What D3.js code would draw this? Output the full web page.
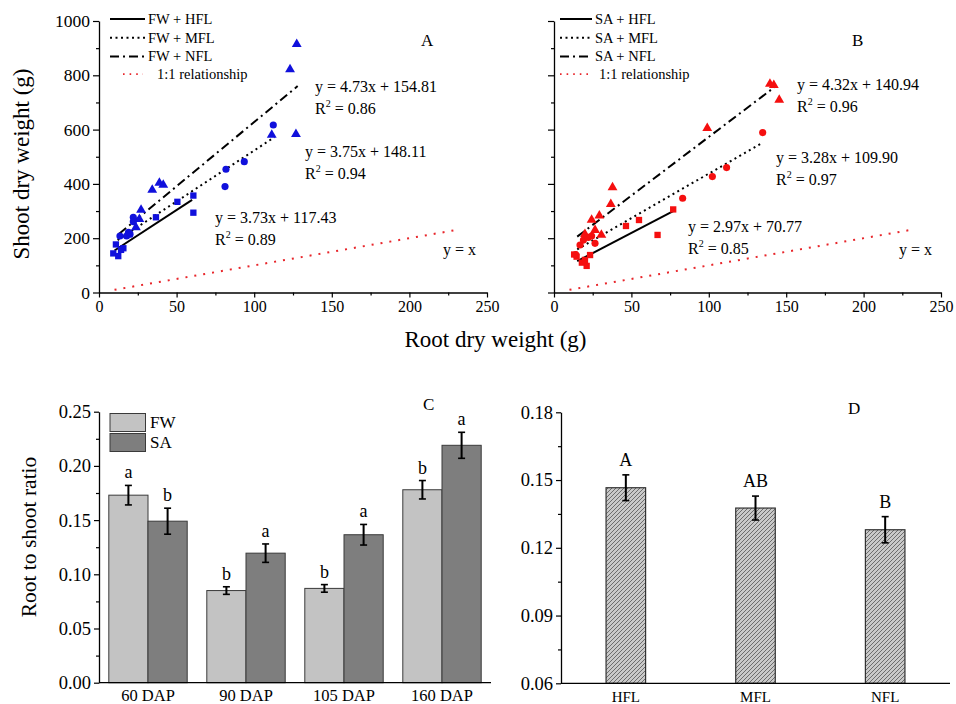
<!DOCTYPE html>
<html><head><meta charset="utf-8">
<script src="https://cdn.jsdelivr.net/npm/d3@7"></script>
<style>
body{margin:0;background:#fff}
svg{display:block}
text{font-family:"Liberation Serif","Times New Roman",serif;fill:#000}
</style>
</head><body><svg id="chart" width="956" height="704"></svg>
<script>
// ---------------- Data ----------------
// Panel A (FW) : [root dry weight, shoot dry weight]
const fwHFL = [[9.2,144],[12.4,134],[10.9,177],[15.7,163],[14.2,157],[19.5,215],[36.7,277],[50.5,334],[60.8,357],[60.8,294]];
const fwMFL = [[13.5,208],[17.8,208],[20,215],[22.1,277],[22.1,261],[19,222],[81.8,454],[93.6,482],[81.2,390],[112.3,617]];
const fwNFL = [[27.1,304],[23.8,240],[26,270],[34.3,378],[38.9,404],[41.4,396],[111.3,580],[127.4,915],[123.1,822],[126.9,583]];
// Panel B (SA)
const saHFL = [[14.6,132],[21.1,98],[20,120],[23.3,138],[13,140],[18,110],[46.5,245],[54.9,267],[66.9,212],[77,306]];
const saMFL = [[16.8,175],[19,193],[22.2,203],[24.3,208],[26.5,181],[14,140],[83.1,347],[102.3,427],[111.5,460],[134.8,589]];
const saNFL = [[37.8,387],[36.7,325],[29.3,283],[24.3,267],[26.5,230],[30.6,212],[20,215],[99,605],[139.5,768],[142,764],[145.5,709]];
// regression fits: slope, intercept, x range
const fitSlopesA = [3.73, 3.75, 4.73];
const fitInterceptsA = [117.43, 148.11, 154.81];
const fitRangesA = [[10,60],[12,113],[13,128]];
const fitR2A = ["0.89","0.94","0.86"];
const fitSlopesB = [2.97, 3.28, 4.32];
const fitInterceptsB = [70.77, 109.90, 140.94];
const fitRangesB = [[15,77],[15,134],[15,143]];
const fitR2B = ["0.85","0.97","0.96"];
const oneToOneRange = [10, 230];
const levels = ["HFL","MFL","NFL"];
const scatterXTicks = [0,50,100,150,200,250];
const scatterYTicks = [0,200,400,600,800,1000];

// Panel C
const dapCategories = ["60 DAP","90 DAP","105 DAP","160 DAP"];
const fwRatio = [0.173, 0.085, 0.087, 0.178];
const fwErr   = [0.009, 0.0035, 0.0035, 0.0085];
const saRatio = [0.149, 0.1195, 0.1365, 0.219];
const saErr   = [0.012, 0.0085, 0.0095, 0.012];
const fwLetters = ["a","b","b","b"];
const saLetters = ["b","a","a","a"];
const ratioTicksC = [0,0.05,0.10,0.15,0.20,0.25];

// Panel D
const flCategories = ["HFL","MFL","NFL"];
const flRatio = [0.1466, 0.1376, 0.128];
const flErr   = [0.0057, 0.0053, 0.0058];
const flLetters = ["A","AB","B"];
const ratioTicksD = [0.06,0.09,0.12,0.15,0.18];

// ---------------- Drawing ----------------
const svg = d3.select("#chart");
const defs = svg.append("defs");
const hatch = defs.append("pattern").attr("id","hatch").attr("patternUnits","userSpaceOnUse")
  .attr("width",4).attr("height",4);
hatch.append("rect").attr("width",4).attr("height",4).attr("fill","#c9c9c9");
hatch.append("path").attr("d","M-1,1 l2,-2 M0,4 l4,-4 M3,5 l2,-2").attr("stroke","#555").attr("stroke-width",0.8);

const lineStyles = {HFL:null, MFL:"2,3.5", NFL:"9,4,2,4"};
const redDash = "2,7";
const serif = '"Liberation Serif","Times New Roman",serif';

function styleAxis(g){
  g.attr("font-family",null);
  g.selectAll("path.domain").attr("stroke","#000").attr("stroke-width",1.3);
  g.selectAll(".tick line").attr("stroke","#000").attr("stroke-width",1.2);
  g.selectAll("text").style("font-family",serif).attr("fill","#000");
}

const yScat = d3.scaleLinear().domain([0,1000]).range([292.5,21]);

function scatterPanel(x, series, color, slopes, intercepts, ranges, r2, prefix, opts){
  // axes
  const gx = svg.append("g").attr("transform","translate(0,292.5)")
    .call(d3.axisBottom(x).tickValues(scatterXTicks).tickSize(5).tickSizeOuter(0).tickPadding(3).tickFormat(d3.format("d")));
  gx.selectAll("text").style("font-size","16px");
  styleAxis(gx);
  const gxm = svg.append("g").attr("transform","translate(0,292.5)")
    .call(d3.axisBottom(x).tickValues(d3.range(25,250,50)).tickSize(3).tickFormat(""));
  gxm.select("path.domain").remove(); styleAxis(gxm);

  const gy = svg.append("g").attr("transform",`translate(${x(0)},0)`)
    .call(d3.axisLeft(yScat).tickValues(scatterYTicks).tickSize(6).tickSizeOuter(0).tickPadding(3)
      .tickFormat(opts.yLabels ? d3.format("d") : ""));
  gy.selectAll("text").style("font-size","17.5px");
  styleAxis(gy);
  const gym = svg.append("g").attr("transform",`translate(${x(0)},0)`)
    .call(d3.axisLeft(yScat).tickValues(d3.range(100,1000,200)).tickSize(3).tickFormat(""));
  gym.select("path.domain").remove(); styleAxis(gym);

  // 1:1 line
  svg.append("line").attr("x1",x(oneToOneRange[0])).attr("y1",yScat(oneToOneRange[0]))
    .attr("x2",x(oneToOneRange[1])).attr("y2",yScat(oneToOneRange[1]))
    .attr("stroke","#e8262b").attr("stroke-width",2).attr("stroke-dasharray",redDash);

  // fit lines
  levels.forEach((lv,i)=>{
    const [a,b] = ranges[i];
    svg.append("line").attr("x1",x(a)).attr("y1",yScat(slopes[i]*a+intercepts[i]))
      .attr("x2",x(b)).attr("y2",yScat(slopes[i]*b+intercepts[i]))
      .attr("stroke","#000").attr("stroke-width",2)
      .attr("stroke-dasharray",lineStyles[lv]);
  });

  // points
  const shapes = [d3.symbolSquare, d3.symbolCircle, d3.symbolTriangle];
  const sizes = [40, 40, 42];
  series.forEach((pts,i)=>{
    svg.append("g").selectAll("path").data(pts).join("path")
      .attr("transform",d=>`translate(${x(d[0])},${yScat(d[1])})`)
      .attr("d",d3.symbol().type(shapes[i]).size(sizes[i]))
      .attr("fill",color);
  });

  // legend
  const lg = opts.legend;
  levels.forEach((lv,i)=>{
    const yy = lg.y + i*18.7;
    svg.append("line").attr("x1",lg.x0).attr("x2",lg.x1).attr("y1",yy).attr("y2",yy)
      .attr("stroke","#000").attr("stroke-width",2).attr("stroke-dasharray",lineStyles[lv]);
    svg.append("text").attr("x",lg.x1+3).attr("y",yy+5).style("font-size","14.5px").text(`${prefix} + ${lv}`);
  });
  const yr = lg.y + 3*18.7 - 1;
  svg.append("line").attr("x1",lg.x0+lg.redOff).attr("x2",lg.x1-2).attr("y1",yr).attr("y2",yr)
    .attr("stroke","#e8262b").attr("stroke-width",1.8).attr("stroke-dasharray","1.6,5");
  svg.append("text").attr("x",lg.x1+lg.textOff).attr("y",yr+5).style("font-size","14.5px").text("1:1 relationship");

  // equations
  opts.eq.forEach((p,i)=>{
    const s = slopes[i].toFixed(2), c = intercepts[i].toFixed(2);
    svg.append("text").attr("x",p[0]).attr("y",p[1]).style("font-size","16px").text(`y = ${s}x + ${c}`);
    const t = svg.append("text").attr("x",p[0]).attr("y",p[1]+22).style("font-size","16px");
    t.append("tspan").text("R");
    t.append("tspan").attr("dy",-7).style("font-size","10px").text("2");
    t.append("tspan").attr("dy",7).text(` = ${r2[i]}`);
  });
  svg.append("text").attr("x",opts.yx[0]).attr("y",opts.yx[1]).style("font-size","16px").text("y = x");
  svg.append("text").attr("x",opts.label[0]).attr("y",opts.label[1]).style("font-size","17px").text(opts.label[2]);
}

const xA = d3.scaleLinear().domain([0,250]).range([99,487]);
const xB = d3.scaleLinear().domain([0,250]).range([554,941]);

scatterPanel(xA,[fwHFL,fwMFL,fwNFL],"#1010dc",fitSlopesA,fitInterceptsA,fitRangesA,fitR2A,"FW",{
  yLabels:true,
  legend:{x0:110,x1:145,y:19,redOff:13,textOff:12},
  eq:[[215,223],[305,157],[315,92]],
  yx:[443,255],
  label:[421,46,"A"]
});
scatterPanel(xB,[saHFL,saMFL,saNFL],"#f50f0f",fitSlopesB,fitInterceptsB,fitRangesB,fitR2B,"SA",{
  yLabels:false,
  legend:{x0:560,x1:592,y:19,redOff:0,textOff:7},
  eq:[[688,232],[776,163],[797,90]],
  yx:[899,255],
  label:[852,46,"B"]
});

// axis titles for top
svg.append("text").attr("transform","translate(29,164) rotate(-90)").attr("text-anchor","middle")
  .style("font-size","23px").text("Shoot dry weight (g)");
svg.append("text").attr("x",495.5).attr("y",347).attr("text-anchor","middle")
  .style("font-size","23px").text("Root dry weight (g)");

// ---------- Panel C ----------
const xC = d3.scaleBand().domain(dapCategories).range([99,491]).paddingInner(0.2).paddingOuter(0.1);
const subC = d3.scaleBand().domain(["FW","SA"]).range([0,xC.bandwidth()]);
const yC = d3.scaleLinear().domain([0,0.25]).range([682.7,411.7]);
const colorsC = {FW:"#c3c3c3", SA:"#7e7e7e"};

const gyC = svg.append("g").attr("transform","translate(99,0)")
  .call(d3.axisLeft(yC).tickValues(ratioTicksC).tickSize(5).tickSizeOuter(0).tickPadding(3).tickFormat(d3.format(".2f")));
gyC.selectAll("text").style("font-size","18.5px");
styleAxis(gyC);
const gyCm = svg.append("g").attr("transform","translate(99,0)")
  .call(d3.axisLeft(yC).tickValues(d3.range(0.025,0.25,0.05)).tickSize(3).tickFormat(""));
gyCm.select("path.domain").remove(); styleAxis(gyCm);

const barsC = [];
dapCategories.forEach((c,i)=>{
  barsC.push({cat:c, grp:"FW", v:fwRatio[i], e:fwErr[i], l:fwLetters[i]});
  barsC.push({cat:c, grp:"SA", v:saRatio[i], e:saErr[i], l:saLetters[i]});
});
svg.append("g").selectAll("rect").data(barsC).join("rect")
  .attr("x",d=>xC(d.cat)+subC(d.grp)).attr("width",subC.bandwidth())
  .attr("y",d=>yC(d.v)).attr("height",d=>yC(0)-yC(d.v))
  .attr("fill",d=>colorsC[d.grp]).attr("stroke","#3a3a3a").attr("stroke-width",1);
const ebC = svg.append("g");
barsC.forEach(d=>{
  const cx = xC(d.cat)+subC(d.grp)+subC.bandwidth()/2;
  ebC.append("line").attr("x1",cx).attr("x2",cx).attr("y1",yC(d.v+d.e)).attr("y2",yC(d.v-d.e)).attr("stroke","#000").attr("stroke-width",2);
  [d.v+d.e,d.v-d.e].forEach(v=>ebC.append("line").attr("x1",cx-3.5).attr("x2",cx+3.5).attr("y1",yC(v)).attr("y2",yC(v)).attr("stroke","#000").attr("stroke-width",1.6));
  svg.append("text").attr("x",cx).attr("y",yC(d.v+d.e)-7).attr("text-anchor","middle").style("font-size","18px").text(d.l);
});
svg.append("line").attr("x1",99).attr("x2",491).attr("y1",yC(0)).attr("y2",yC(0)).attr("stroke","#000").attr("stroke-width",1.3);
dapCategories.forEach(c=>{
  svg.append("text").attr("x",xC(c)+xC.bandwidth()/2).attr("y",701).attr("text-anchor","middle").style("font-size","16.5px").text(c);
});
// legend C
["FW","SA"].forEach((g,i)=>{
  svg.append("rect").attr("x",110).attr("y",413.5+i*20).attr("width",35.5).attr("height",18)
    .attr("fill",colorsC[g]).attr("stroke","#3a3a3a").attr("stroke-width",1);
  svg.append("text").attr("x",150).attr("y",428+i*20).style("font-size","17px").text(g);
});
svg.append("text").attr("transform","translate(36,537) rotate(-90)").attr("text-anchor","middle")
  .style("font-size","21.5px").text("Root to shoot ratio");
svg.append("text").attr("x",423).attr("y",410).style("font-size","17px").text("C");

// ---------- Panel D ----------
const xD = d3.scaleBand().domain(flCategories).range([561,950]).paddingInner(0.695).paddingOuter(0.3475);
const yD = d3.scaleLinear().domain([0.06,0.18]).range([683.3,412.3]);
const gyD = svg.append("g").attr("transform","translate(561,0)")
  .call(d3.axisLeft(yD).tickValues(ratioTicksD).tickSize(5).tickSizeOuter(0).tickPadding(3).tickFormat(d3.format(".2f")));
gyD.selectAll("text").style("font-size","18.5px");
styleAxis(gyD);
const gyDm = svg.append("g").attr("transform","translate(561,0)")
  .call(d3.axisLeft(yD).tickValues([0.075,0.105,0.135,0.165]).tickSize(3).tickFormat(""));
gyDm.select("path.domain").remove(); styleAxis(gyDm);

flCategories.forEach((c,i)=>{
  const x0 = xD(c), w = xD.bandwidth(), cx = x0+w/2;
  svg.append("rect").attr("x",x0).attr("width",w).attr("y",yD(flRatio[i])).attr("height",yD(0.06)-yD(flRatio[i]))
    .attr("fill","url(#hatch)").attr("stroke","#333").attr("stroke-width",1.2);
  const t = flRatio[i]+flErr[i], b = flRatio[i]-flErr[i];
  svg.append("line").attr("x1",cx).attr("x2",cx).attr("y1",yD(t)).attr("y2",yD(b)).attr("stroke","#000").attr("stroke-width",2);
  [t,b].forEach(v=>svg.append("line").attr("x1",cx-3.5).attr("x2",cx+3.5).attr("y1",yD(v)).attr("y2",yD(v)).attr("stroke","#000").attr("stroke-width",1.6));
  svg.append("text").attr("x",cx).attr("y",yD(t)-9).attr("text-anchor","middle").style("font-size","18px").text(flLetters[i]);
  svg.append("text").attr("x",cx).attr("y",702).attr("text-anchor","middle").style("font-size","15px").text(c);
});
svg.append("line").attr("x1",561).attr("x2",950).attr("y1",yD(0.06)).attr("y2",yD(0.06)).attr("stroke","#000").attr("stroke-width",1.3);
svg.append("text").attr("x",848).attr("y",414).style("font-size","17px").text("D");
</script>
</body></html>
